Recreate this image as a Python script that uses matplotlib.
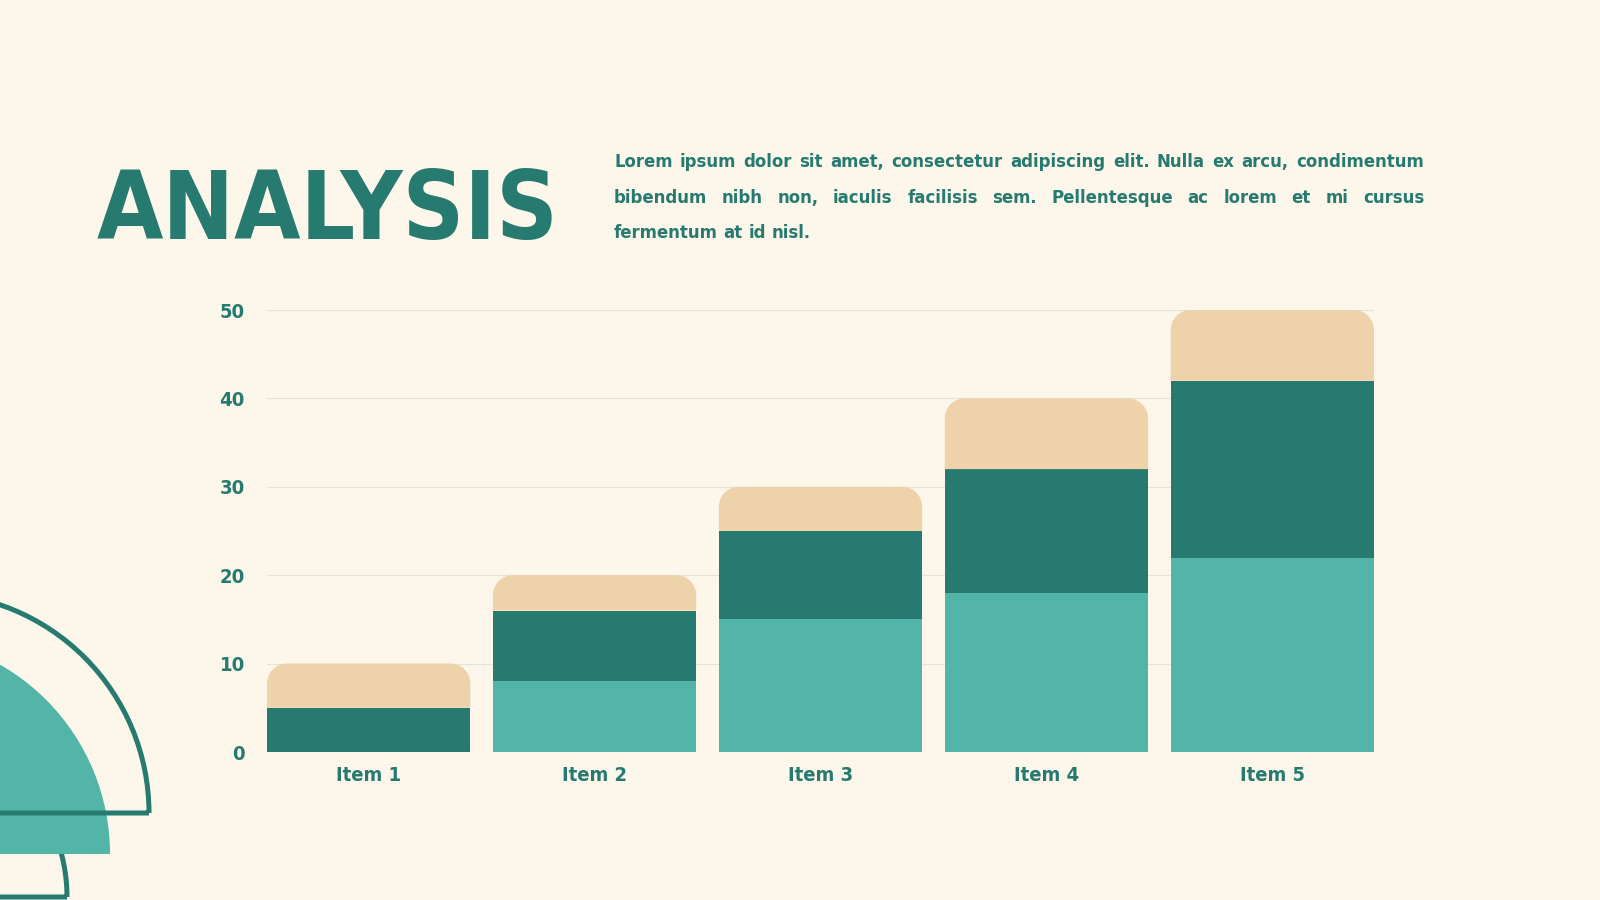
import matplotlib
matplotlib.use("Agg")
import matplotlib.pyplot as plt
from matplotlib import font_manager
from matplotlib.font_manager import FontProperties
from matplotlib.patches import Wedge, PathPatch
from matplotlib.path import Path

BG = "#FDF6EB"
TEAL_DARK = "#267A6F"
TEAL_LIGHT = "#52B5A8"
BEIGE = "#EED2A9"
GRID = "#E6E3DB"

# ── data ────────────────────────────────────────────────────────────
items = ["Item 1", "Item 2", "Item 3", "Item 4", "Item 5"]
series_a = [0, 8, 15, 18, 22]      # light teal (bottom)
series_b = [5, 8, 10, 14, 20]      # dark teal (middle)
series_c = [5, 4, 5, 8, 8]         # beige (top)
y_ticks = [0, 10, 20, 30, 40, 50]

title = "ANALYSIS"
body_lines = [
    "Lorem ipsum dolor sit amet, consectetur adipiscing elit. Nulla ex arcu, condimentum",
    "bibendum nibh non, iaculis facilisis sem. Pellentesque ac lorem et mi cursus",
    "fermentum at id nisl.",
]

W, H = 1600, 900


def pick_condensed_bold():
    """Look for an installed condensed/narrow bold face, else None."""
    order = {"condensed": 0, "semi-condensed": 1, "extra-condensed": 2}
    hits = []
    for f in font_manager.fontManager.ttflist:
        narrow = f.stretch in order or "Narrow" in f.name or "Condensed" in f.name
        w = f.weight if isinstance(f.weight, int) else font_manager.weight_dict.get(f.weight, 400)
        if narrow and f.style == "normal" and 600 <= w <= 800:
            hits.append((order.get(f.stretch, 0), abs(w - 700), f.fname))
    hits.sort()
    return hits[0][2] if hits else None


FONT_FILE = pick_condensed_bold()


def fp(size):
    if FONT_FILE:
        return FontProperties(fname=FONT_FILE, size=size)
    return FontProperties(family=["Roboto", "DejaVu Sans"], weight="bold", size=size)


fig = plt.figure(figsize=(16, 9), dpi=100, facecolor=BG)
renderer = fig.canvas.get_renderer()


def text_width(s, size):
    t = fig.text(0, 0, s, fontproperties=fp(size))
    w = t.get_window_extent(renderer).width
    t.remove()
    return w


# ── decorations (pixel coords, y up) ────────────────────────────────
deco = fig.add_axes([0, 0, 1, 1], zorder=0)
deco.set_xlim(0, W)
deco.set_ylim(0, H)
deco.axis("off")
deco.add_patch(Wedge((-104, 3), 171, 0, 180, fill=False, ec=TEAL_DARK, lw=3.6, zorder=1))
deco.add_patch(Wedge((-108, 46), 218, 0, 180, fc=TEAL_LIGHT, ec="none", zorder=2))
deco.add_patch(Wedge((-71, 87), 220, 0, 180, fill=False, ec=TEAL_DARK, lw=3.6, zorder=3))

# ── chart ───────────────────────────────────────────────────────────
ax = fig.add_axes([267 / W, 148 / H, (1374 - 267) / W, 442 / H], zorder=1)
ax.set_facecolor("none")
x = list(range(len(items)))
ax.set_xlim(-0.45, len(items) - 0.55)
ax.set_ylim(0, 50)

bottom_b = series_a
bottom_c = [a + b for a, b in zip(series_a, series_b)]
ax.bar(x, series_a, width=0.9, color=TEAL_LIGHT, zorder=2)
ax.bar(x, series_b, width=0.9, bottom=bottom_b, color=TEAL_DARK, zorder=2)
top_bars = ax.bar(x, series_c, width=0.9, bottom=bottom_c, color=BEIGE, zorder=2)


def round_top(rect, rpx=20):
    bx, by, bw, bh = rect.get_x(), rect.get_y(), rect.get_width(), rect.get_height()
    (px0, py0), (px1, py1) = ax.transData.transform([(0, 0), (1, 1)])
    rx = rpx / (px1 - px0)
    ry = min(rpx / (py1 - py0), bh)
    k = 0.5523
    top = by + bh
    verts = [(bx, by), (bx, top - ry), (bx, top - ry + k * ry), (bx + rx - k * rx, top),
             (bx + rx, top), (bx + bw - rx, top), (bx + bw - rx + k * rx, top),
             (bx + bw, top - ry + k * ry), (bx + bw, top - ry), (bx + bw, by), (bx, by)]
    codes = [Path.MOVETO, Path.LINETO, Path.CURVE4, Path.CURVE4, Path.CURVE4, Path.LINETO,
             Path.CURVE4, Path.CURVE4, Path.CURVE4, Path.LINETO, Path.CLOSEPOLY]
    rect.set_visible(False)
    ax.add_patch(PathPatch(Path(verts, codes), fc=rect.get_facecolor(), ec="none", zorder=2))


for r in top_bars:
    round_top(r)

LABEL_SIZE = 14.5
ax.set_yticks(y_ticks)
ax.set_yticklabels([str(t) for t in y_ticks])
ax.set_xticks(x)
ax.set_xticklabels(items)
ax.tick_params(axis="y", length=0, pad=16, labelcolor=TEAL_DARK)
ax.tick_params(axis="x", length=0, pad=10, labelcolor=TEAL_DARK)
for lab in ax.get_xticklabels() + ax.get_yticklabels():
    lab.set_fontproperties(fp(LABEL_SIZE))
ax.yaxis.grid(True, color=GRID, lw=0.9, zorder=0)
ax.set_axisbelow(True)
for s in ax.spines.values():
    s.set_visible(False)

# ── title ───────────────────────────────────────────────────────────
title_size = min(80 * 462 / text_width(title, 80), 118)
fig.text(97 / W, 1 - 239 / H, title, fontproperties=fp(title_size),
         color=TEAL_DARK, va="baseline", ha="left")

# ── justified paragraph ─────────────────────────────────────────────
x_left, x_right = 614, 1424
baselines = [167, 203, 238]
body_size = 16 * 795 / text_width(body_lines[0], 16)
space_w = text_width("a a", body_size) - text_width("aa", body_size)
for i, (line, yb) in enumerate(zip(body_lines, baselines)):
    words = line.split(" ")
    texts = [fig.text(0, 1 - yb / H, w, fontproperties=fp(body_size),
                      color=TEAL_DARK, va="baseline", ha="left") for w in words]
    widths = [t.get_window_extent(renderer).width for t in texts]
    if i < len(body_lines) - 1:
        gap = (x_right - x_left - sum(widths)) / (len(words) - 1)
    else:
        gap = space_w
    pos = x_left
    for t, w in zip(texts, widths):
        t.set_x(pos / W)
        pos += w + gap

fig.savefig("out.png", dpi=100, facecolor=BG)
